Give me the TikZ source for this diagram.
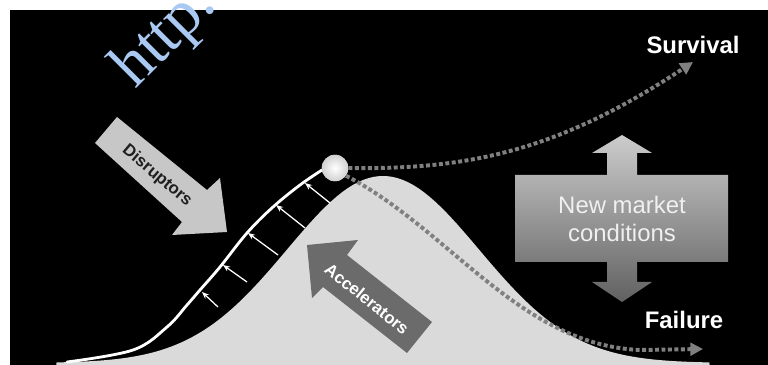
\documentclass[tikz,border=0pt]{standalone}
\usepackage{fontspec}
\setmainfont{Liberation Sans}
\newfontfamily\wmfont{Liberation Serif}
\usepackage{tikz}
\usetikzlibrary{arrows.meta,calc}
\definecolor{wmblue}{HTML}{A9C9F2}
\definecolor{bellgray}{HTML}{DADADA}
\definecolor{dotgray}{HTML}{808080}

\begin{document}
\begin{tikzpicture}[x=0.025cm,y=-0.025cm,
  bell/.style={fill=bellgray},
  scurve/.style={draw=white,line width=2pt,line cap=round},
  push/.style={draw=white,line width=0.9pt,-{Stealth[length=5pt,width=4pt]}},
  ball/.style={circle,minimum size=0.66cm,inner sep=0pt,
               inner color=white,outer color=black!18},
  dotline/.style={draw=dotgray,line width=2.8pt,dash pattern=on 2.8pt off 1.8pt,
                  -{Triangle[length=9pt,width=9pt]}},
  blocktext/.style={font=\fontsize{12}{14}\selectfont\bfseries,inner sep=0pt},
  outcome/.style={text=white,font=\fontsize{17}{20}\selectfont\bfseries,inner sep=0pt},
  wmark/.style={text=wmblue,font=\wmfont\fontsize{46}{46}\selectfont,inner sep=0pt}
]
\useasboundingbox (0,0) rectangle (768,365);
\clip (0,0) rectangle (768,365);
\fill[white] (0,0) rectangle (768,365);
\fill[black] (10,10) rectangle (768,366);

% market curve
\fill[bell] plot[domain=-3.4:3.4,samples=120] ({383+96*\x},{363-187*exp(-0.5*(\x)^2)})
  -- (710,367) -- (56,367) -- cycle;

\node[ball] (ball) at (335,168) {};
\coordinate (survEnd) at (693,62);
\coordinate (failEnd) at (703,349);

% the two outcomes
\draw[dotline] (ball.east) .. controls (470,170) and (560,150) .. (survEnd);
\draw[dotline] (ball.-35) .. controls (450,230) and (520,345) .. (640,350) -- (failEnd);

% company curve
\draw[scurve] plot[smooth,tension=0.6] coordinates {(67,362) (133,350) (167,327)
  (187,305) (200,290) (220,267) (247,233) (273,207) (300,185) (322,170)};
\foreach \tx/\ty/\hx/\hy in {330/203/305/183, 305/228/276/205, 278/255/248/233,
                             247/282/223/265, 218/307/202/292}
  \draw[push] (\tx,\ty) -- (\hx,\hy);
\node[ball] at (ball) {};

% disruptors
\fill[black!22] (95,143) -- (117,117) -- (207,190) -- (220,178) -- (227,232)
  -- (172,235) -- (182,222) -- cycle;
\node[blocktext,text=black!88,rotate=-40] (disr) at (157,176) {Disruptors};

% accelerators
\fill[black!58] (307,245) -- (358,240) -- (347,255) -- (432,322) -- (407,353)
  -- (323,287) -- (312,298) -- cycle;
\node[blocktext,text=white,rotate=-39] (acc) at (367,299) {Accelerators};

% new market conditions
\shade[top color=black!20,bottom color=black!62]
  (515,175) -- (607,175) -- (607,153) -- (592,153) -- (622,135) -- (652,153)
  -- (637,153) -- (637,175) -- (728,175) -- (728,262) -- (637,262) -- (637,282)
  -- (652,282) -- (622,302) -- (592,282) -- (607,282) -- (607,262) -- (515,262) -- cycle;
\node[text=white!94!black,font=\fontsize{17}{20}\selectfont,align=center,inner sep=0pt]
  (nmc) at (622,219) {New market\\conditions};

\node[outcome] (surv) at (693,45) {Survival};
\node[outcome] (fail) at (684,320) {Failure};

\node[wmark,rotate=45,anchor=base west] (wm) at (135,90) {http.};
\end{tikzpicture}
\end{document}
